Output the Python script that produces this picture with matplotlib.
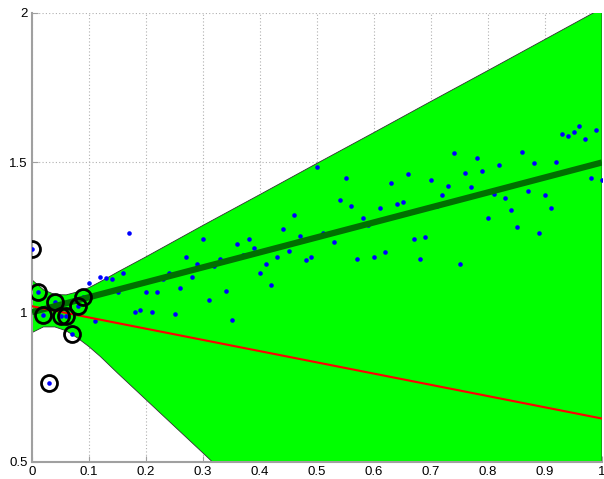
import numpy as np
import matplotlib
matplotlib.use("Agg")
from matplotlib import pyplot as plt

# observed samples, x on a 0.01 grid
x_obs = np.round(np.arange(0, 101) * 0.01, 2)
y_obs = [1.212, 1.068, 0.991, 0.764, 1.035, 0.988, 0.988, 0.927, 1.022, 1.052,
         1.097, 0.972, 1.119, 1.114, 1.111, 1.067, 1.130, 1.263, 1.002, 1.007,
         1.067, 1.002, 1.067, 1.110, 1.130, 0.993, 1.080, 1.185, 1.117, 1.161,
         1.244, 1.041, 1.154, 1.177, 1.072, 0.973, 1.228, 1.191, 1.243, 1.216,
         1.131, 1.160, 1.091, 1.184, 1.279, 1.206, 1.324, 1.253, 1.174, 1.184,
         1.485, 1.264, 1.260, 1.233, 1.374, 1.448, 1.353, 1.177, 1.316, 1.291,
         1.186, 1.347, 1.202, 1.433, 1.360, 1.369, 1.460, 1.243, 1.177, 1.250,
         1.441, 1.355, 1.390, 1.423, 1.533, 1.161, 1.464, 1.419, 1.515, 1.470,
         1.314, 1.396, 1.491, 1.381, 1.341, 1.284, 1.536, 1.406, 1.497, 1.265,
         1.390, 1.349, 1.502, 1.595, 1.587, 1.602, 1.621, 1.578, 1.448, 1.607,
         1.443]
n_train = 10  # the first ten samples are the circled training points

# true line and fitted line end points
true_x = [0.0, 1.0]
true_y = [1.0, 1.5]
fit_x = [0.0, 1.0]
fit_y = [1.02, 0.645]

# predictive band edges
band_x = [0.0, 0.02, 0.04, 0.06, 0.08, 0.10, 0.12, 0.15, 0.20, 0.30, 0.40,
          0.50, 0.60, 0.70, 0.80, 0.90, 1.00]
band_hi = [1.108, 1.075, 1.059, 1.058, 1.068, 1.082, 1.102, 1.134, 1.185, 1.290, 1.393,
           1.497, 1.600, 1.704, 1.807, 1.911, 2.015]
band_lo = [0.932, 0.951, 0.951, 0.938, 0.914, 0.885, 0.852, 0.797, 0.708, 0.530, 0.350,
           0.170, -0.010, -0.190, -0.370, -0.550, -0.730]

fig = plt.figure(figsize=(6.04, 4.79), dpi=100)
ax = fig.add_axes([0.053, 0.0355, 0.9437, 0.938])

ax.fill_between(band_x, band_lo, band_hi, facecolor="#00ff00",
                edgecolor="#303030", linewidth=0.6, zorder=2)
ax.plot(x_obs, y_obs, "o", color="#0000ff", ms=3.3, mec="none", zorder=3)
ax.plot(true_x, true_y, color="#007000", lw=4.5, solid_capstyle="butt", zorder=4)
ax.plot(fit_x, fit_y, color="#ff0000", lw=1.5, zorder=5)
ax.plot(x_obs[:n_train], y_obs[:n_train], "o", mfc="none", mec="black",
        ms=11.5, mew=2.0, zorder=6)

ax.set_xlim(0, 1)
ax.set_ylim(0.5, 2)
ax.set_xticks(np.round(np.arange(0, 11) * 0.1, 1))
ax.set_xticklabels(["0", "0.1", "0.2", "0.3", "0.4", "0.5", "0.6", "0.7", "0.8", "0.9", "1"])
ax.set_yticks([0.5, 1, 1.5, 2])
ax.set_yticklabels(["0.5", "1", "1.5", "2"])

ax.set_axisbelow(True)
ax.grid(True, color="#b0b0b0", linestyle=(0, (1, 2)), linewidth=0.8)
for s in ["top", "right"]:
    ax.spines[s].set_visible(False)
for s in ["left", "bottom"]:
    ax.spines[s].set_color("#a0a0a0")
    ax.spines[s].set_linewidth(1.5)
ax.tick_params(direction="in", length=4, color="#a0a0a0", labelsize=9.5,
               labelcolor="black", pad=3)
for lbl in ax.get_xticklabels() + ax.get_yticklabels():
    lbl.set_family("Liberation Sans")

fig.savefig("out.png", dpi=100)
